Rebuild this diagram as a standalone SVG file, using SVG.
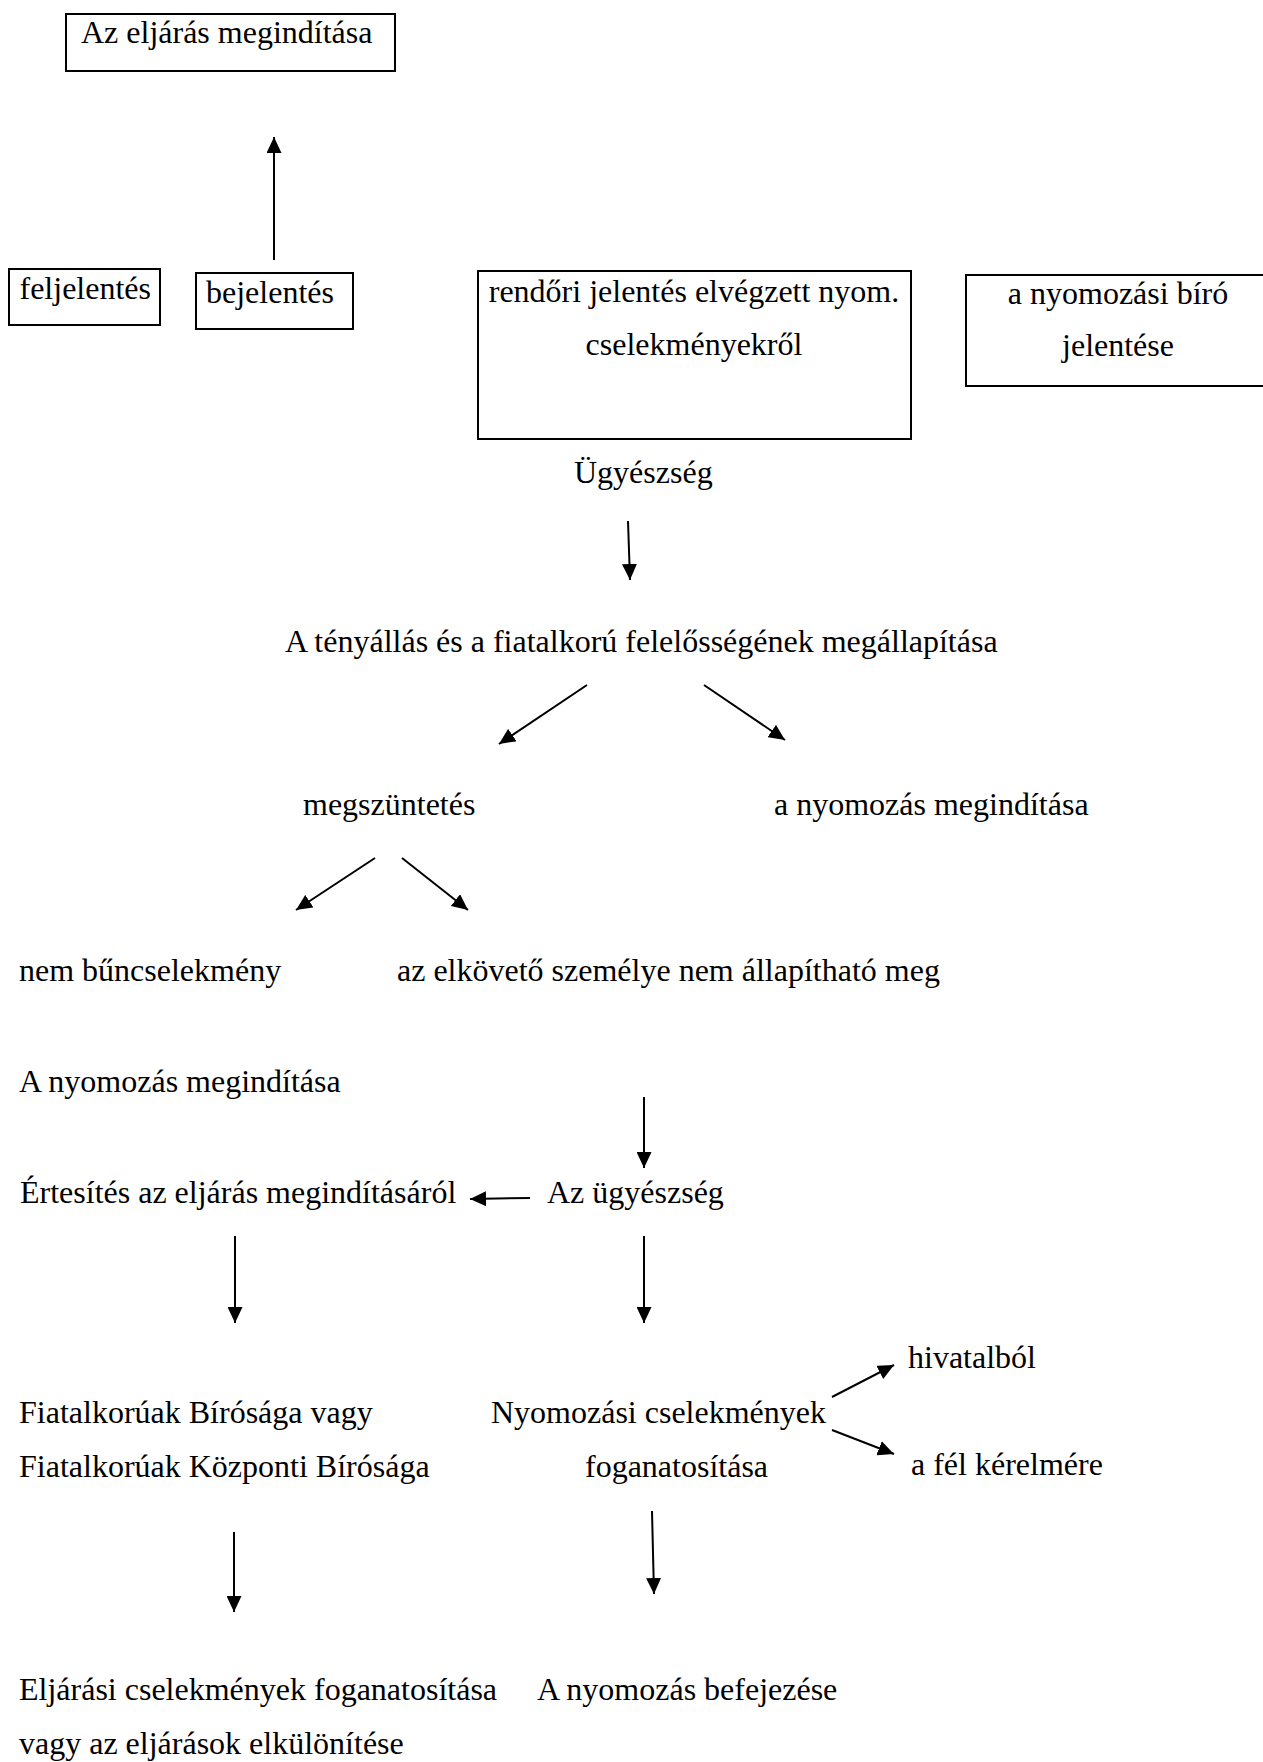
<svg xmlns="http://www.w3.org/2000/svg" width="1263" height="1762" viewBox="0 0 1263 1762">
<style>
text{font-family:"Liberation Serif","Times New Roman",serif;font-size:32px;fill:#000}
.box{fill:none;stroke:#000;stroke-width:2}
.c text{text-anchor:middle}
#connectors line{stroke:#000;stroke-width:2;marker-end:url(#ah)}
</style>
<defs>
<marker id="ah" markerUnits="userSpaceOnUse" markerWidth="16" markerHeight="15" viewBox="0 0 16 15" refX="16" refY="7.5" orient="auto">
<path d="M0,0 L16,7.5 L0,15 z" fill="#000"/>
</marker>
</defs>
<rect width="1263" height="1762" fill="#fff"/>
<g id="n-eljaras"><rect class="box" x="66" y="14" width="329" height="57"/><text x="81" y="43">Az eljárás megindítása</text></g>
<g id="n-feljelentes"><rect class="box" x="9" y="269" width="151" height="56"/><text x="19.5" y="299">feljelentés</text></g>
<g id="n-bejelentes"><rect class="box" x="196" y="273" width="157" height="56"/><text x="206" y="303">bejelentés</text></g>
<g id="n-rendori" class="c"><rect class="box" x="478" y="271" width="433" height="168"/><text x="694" y="302">rendőri jelentés elvégzett nyom.</text><text x="694" y="355">cselekményekről</text></g>
<g id="n-biro" class="c"><rect class="box" x="966" y="275" width="300" height="111"/><text x="1118" y="304">a nyomozási bíró</text><text x="1118" y="356">jelentése</text></g>
<g id="n-ugyeszseg"><text x="574" y="483">Ügyészség</text></g>
<g id="n-tenyallas"><text x="285" y="652">A tényállás és a fiatalkorú felelősségének megállapítása</text></g>
<g id="n-megszuntetes"><text x="303" y="815">megszüntetés</text></g>
<g id="n-nyomozas-megind"><text x="774" y="815">a nyomozás megindítása</text></g>
<g id="n-nem-bun"><text x="19" y="981">nem bűncselekmény</text></g>
<g id="n-elkoveto"><text x="397" y="981">az elkövető személye nem állapítható meg</text></g>
<g id="n-nyomozas-megind2"><text x="19" y="1092">A nyomozás megindítása</text></g>
<g id="n-ertesites"><text x="20" y="1203">Értesítés az eljárás megindításáról</text></g>
<g id="n-az-ugyeszseg"><text x="547" y="1203">Az ügyészség</text></g>
<g id="n-hivatalbol"><text x="908" y="1368">hivatalból</text></g>
<g id="n-birosag"><text x="19" y="1423">Fiatalkorúak Bírósága vagy</text><text x="19" y="1477">Fiatalkorúak Központi Bírósága</text></g>
<g id="n-nyomozasi-cs"><text x="491" y="1423">Nyomozási cselekmények</text><text x="585" y="1477">foganatosítása</text></g>
<g id="n-fel-kerelme"><text x="911" y="1475">a fél kérelmére</text></g>
<g id="n-eljarasi-cs"><text x="19" y="1700">Eljárási cselekmények foganatosítása</text><text x="19" y="1754">vagy az eljárások elkülönítése</text></g>
<g id="n-befejezes"><text x="537" y="1700">A nyomozás befejezése</text></g>
<g id="connectors">
<line x1="274" y1="260" x2="274" y2="137"/>
<line x1="628" y1="521" x2="630" y2="580"/>
<line x1="587" y1="685" x2="499" y2="744"/>
<line x1="704" y1="685" x2="785" y2="740"/>
<line x1="375" y1="858" x2="296" y2="910"/>
<line x1="402" y1="858" x2="468" y2="910"/>
<line x1="644" y1="1097" x2="644" y2="1168"/>
<line x1="530" y1="1198" x2="470" y2="1199"/>
<line x1="235" y1="1236" x2="235" y2="1323"/>
<line x1="644" y1="1236" x2="644" y2="1323"/>
<line x1="832" y1="1397" x2="894" y2="1365"/>
<line x1="832" y1="1430" x2="894" y2="1454"/>
<line x1="234" y1="1532" x2="234" y2="1612"/>
<line x1="652" y1="1511" x2="654" y2="1594"/>
</g>
</svg>
